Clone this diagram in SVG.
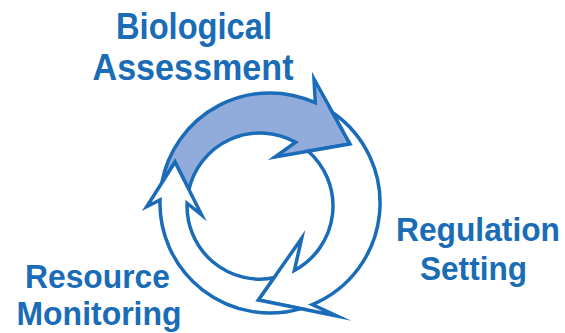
<svg xmlns="http://www.w3.org/2000/svg" width="565" height="333" viewBox="0 0 565 333">
  <style>
    .label { font-family: "Liberation Sans", Arial, Helvetica, sans-serif; font-weight: bold; fill: #1a6cb6; text-anchor: middle; }
    .arrow { stroke: #1a6cb8; stroke-width: 3.5; stroke-linejoin: miter; stroke-miterlimit: 10; }
    .white { fill: #ffffff; }
    .blue { fill: #91abdb; }
  </style>
  <rect width="565" height="333" fill="#ffffff"/>

  <!-- cycle of three curved arrows; each tail is cut to fit the head before it -->
  <g id="connectors">
    <!-- top arrow: biological assessment -> regulation setting -->
    <path id="arrow-assessment" class="arrow blue"
          d="M161.8,182.8 A110,110 0 0 1 315.3,102.7 L314,79 L350,144 L275,157 L295.7,142.3 A73,73 0 0 0 188.9,189.6 L175,162 Z"/>
    <!-- right arrow: regulation setting -> resource monitoring -->
    <path id="arrow-regulation" class="arrow white"
          d="M332.5,112.5 A110,110 0 0 1 312.3,304.6 L337,316 L258.3,300 L301.7,238.3 L294.4,270.4 A73,73 0 0 0 308.2,151.2 L350,144 Z"/>
    <!-- left arrow: resource monitoring -> biological assessment -->
    <path id="arrow-monitoring" class="arrow white"
          d="M300.8,308.6 L258.3,300 L273.9,277.8 A73,73 0 0 1 187.1,203.2 L201.7,215 L175,162 L146.7,206.7 L160,200 A110,110 0 0 0 300.8,308.6 Z"/>
  </g>

  <g id="node-assessment">
    <text class="label" x="194" y="39" font-size="36" textLength="156" lengthAdjust="spacingAndGlyphs">Biological</text>
    <text class="label" x="193" y="79.5" font-size="36" textLength="201" lengthAdjust="spacingAndGlyphs">Assessment</text>
  </g>

  <g id="node-regulation">
    <text class="label" x="478" y="240.5" font-size="33" textLength="164" lengthAdjust="spacingAndGlyphs">Regulation</text>
    <text class="label" x="473.5" y="279.5" font-size="33" textLength="107" lengthAdjust="spacingAndGlyphs">Setting</text>
  </g>

  <g id="node-monitoring">
    <text class="label" x="97.5" y="287.5" font-size="33" textLength="145" lengthAdjust="spacingAndGlyphs">Resource</text>
    <text class="label" x="99" y="324.5" font-size="33" textLength="165" lengthAdjust="spacingAndGlyphs">Monitoring</text>
  </g>
</svg>
